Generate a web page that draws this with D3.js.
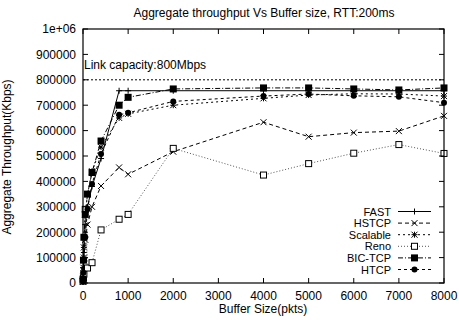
<!DOCTYPE html>
<html lang="en">
<head>
<meta charset="UTF-8">
<title>Aggregate throughput Vs Buffer size</title>
<script src="https://d3js.org/d3.v7.min.js"></script>
<style type="text/css">
    body { margin: 0; background: #fff; }
    text { font-family: "Liberation Sans", Arial, sans-serif; font-size: 12px; fill: #000; }
    .legend text { font-size: 11px; }
</style>
</head>
<body>
<div id="chartArea"></div>
<script type="text/javascript">
    // buffer sizes (pkts) and throughput (Kbps)
    var bufferSizes = [1, 10, 20, 50, 100, 200, 400, 800, 1000, 2000, 4000, 5000, 6000, 7000, 8000];
    var fast     = [5000, 60000, 120000, 230000, 300000, 380000, 490000, 757000, 757000, 757000, 757000, 757000, 757000, 757000, 757000];
    var hstcp    = [5000, 50000, 100000, 170000, 230000, 300000, 382000, 455000, 428000, 517000, 633000, 576000, 592000, 598000, 658000];
    var scalable = [5000, 60000, 140000, 270000, 350000, 440000, 535000, 650000, 666000, 700000, 727000, 740000, 745000, 744000, 736000];
    var reno     = [8000, 20000, 35000, 290000, 59000, 80000, 209000, 251000, 270000, 530000, 425000, 470000, 511000, 545000, 510000];
    var bictcp   = [15000, 90000, 180000, 270000, 350000, 435000, 559000, 700000, 731000, 764000, 768000, 768000, 764000, 760000, 768000];
    var htcp     = [5000, 40000, 90000, 180000, 290000, 390000, 508000, 662000, 670000, 715000, 736000, 744000, 737000, 733000, 710000];

    var seriesNames = ['FAST', 'HSTCP', 'Scalable', 'Reno', 'BIC-TCP', 'HTCP'];
    var seriesValues = [fast, hstcp, scalable, reno, bictcp, htcp];
    var xTicks = [0, 1000, 2000, 3000, 4000, 5000, 6000, 7000, 8000];
    var yTicks = [0, 100000, 200000, 300000, 400000, 500000, 600000, 700000, 800000, 900000, 1000000];
    var linkCapacity = 800000;

    var styles = [
        { dash: null, color: '#000', marker: 'plus' },
        { dash: '4,3', color: '#000', marker: 'x' },
        { dash: '2,3', color: '#000', marker: 'star' },
        { dash: '1,2', color: '#555', marker: 'square' },
        { dash: '5,2,1,2', color: '#000', marker: 'fsquare' },
        { dash: '3,3', color: '#000', marker: 'circle' }
    ];

    var w = 459, h = 321;
    var x = d3.scaleLinear().domain([0, 8000]).range([83, 444]);
    var y = d3.scaleLinear().domain([0, 1000000]).range([283, 29]);

    var svg = d3.select('#chartArea').append('svg')
        .attr('width', w)
        .attr('height', h);

    // link capacity line
    svg.append('line')
        .attr('x1', x(0)).attr('x2', x(8000))
        .attr('y1', y(linkCapacity)).attr('y2', y(linkCapacity))
        .attr('stroke', '#000').attr('stroke-width', 1)
        .attr('stroke-dasharray', '2,2');
    svg.append('text').attr('x', x(0) + 1).attr('y', y(linkCapacity) - 11)
        .text('Link capacity:800Mbps');

    function drawMarker(g, type, cx, cy) {
        var s = 3;
        if (type === 'plus' || type === 'star') {
            g.append('path').attr('d', 'M' + (cx - s) + ',' + cy + 'H' + (cx + s) + 'M' + cx + ',' + (cy - s) + 'V' + (cy + s))
                .attr('stroke', '#000').attr('stroke-width', 1);
        }
        if (type === 'x' || type === 'star') {
            g.append('path').attr('d', 'M' + (cx - s) + ',' + (cy - s) + 'L' + (cx + s) + ',' + (cy + s) + 'M' + (cx - s) + ',' + (cy + s) + 'L' + (cx + s) + ',' + (cy - s))
                .attr('stroke', '#000').attr('stroke-width', 1);
        }
        if (type === 'square') {
            g.append('rect').attr('x', cx - 3).attr('y', cy - 3).attr('width', 6).attr('height', 6)
                .attr('fill', '#fff').attr('stroke', '#000').attr('stroke-width', 1);
        }
        if (type === 'fsquare') {
            g.append('rect').attr('x', cx - 3.5).attr('y', cy - 3.5).attr('width', 7).attr('height', 7)
                .attr('fill', '#000');
        }
        if (type === 'circle') {
            g.append('circle').attr('cx', cx).attr('cy', cy).attr('r', 3).attr('fill', '#000');
        }
    }

    var line = d3.line()
        .x(function (d) { return x(d[0]); })
        .y(function (d) { return y(d[1]); });

    seriesValues.forEach(function (vals, i) {
        var pts = bufferSizes.map(function (b, j) { return [b, vals[j]]; });
        var g = svg.append('g');
        g.append('path').datum(pts)
            .attr('d', line)
            .attr('fill', 'none')
            .attr('stroke', styles[i].color)
            .attr('stroke-width', 1)
            .attr('stroke-dasharray', styles[i].dash);
        pts.forEach(function (p) {
            drawMarker(g, styles[i].marker, x(p[0]), y(p[1]));
        });
    });

    // frame + inward ticks on all sides
    svg.append('rect').attr('x', x(0)).attr('y', y(1000000))
        .attr('width', x(8000) - x(0)).attr('height', y(0) - y(1000000))
        .attr('fill', 'none').attr('stroke', '#000').attr('stroke-width', 1.2);

    var ticks = svg.append('g');
    xTicks.forEach(function (t) {
        ticks.append('path').attr('d', 'M' + x(t) + ',' + y(0) + 'v-5M' + x(t) + ',' + y(1000000) + 'v5')
            .attr('stroke', '#000');
        ticks.append('text').attr('x', x(t)).attr('y', 299.5).attr('text-anchor', 'middle').text(t);
    });
    yTicks.forEach(function (t) {
        ticks.append('path').attr('d', 'M' + x(0) + ',' + y(t) + 'h5M' + x(8000) + ',' + y(t) + 'h-5')
            .attr('stroke', '#000');
        ticks.append('text').attr('x', 76).attr('y', y(t) + 4.3).attr('text-anchor', 'end')
            .text(t === 1000000 ? '1e+06' : t);
    });

    // titles
    svg.append('text').attr('x', 264).attr('y', 16.5).attr('text-anchor', 'middle')
        .text('Aggregate throughput Vs Buffer size, RTT:200ms');
    svg.append('text').attr('x', 263).attr('y', 313).attr('text-anchor', 'middle')
        .text('Buffer Size(pkts)');
    svg.append('text').attr('transform', 'translate(11,157) rotate(-90)').attr('text-anchor', 'middle')
        .text('Aggregate Throughput(Kbps)');

    // legend
    var legend = svg.append('g').attr('class', 'legend');
    seriesNames.forEach(function (name, i) {
        var ly = 211.5 + i * 11.6;
        legend.append('text').attr('x', 391).attr('y', ly + 4).attr('text-anchor', 'end').text(name);
        legend.append('line').attr('x1', 398).attr('x2', 431).attr('y1', ly).attr('y2', ly)
            .attr('stroke', styles[i].color).attr('stroke-width', 1)
            .attr('stroke-dasharray', styles[i].dash);
        drawMarker(legend, styles[i].marker, 414.5, ly);
    });
</script>
</body>
</html>
